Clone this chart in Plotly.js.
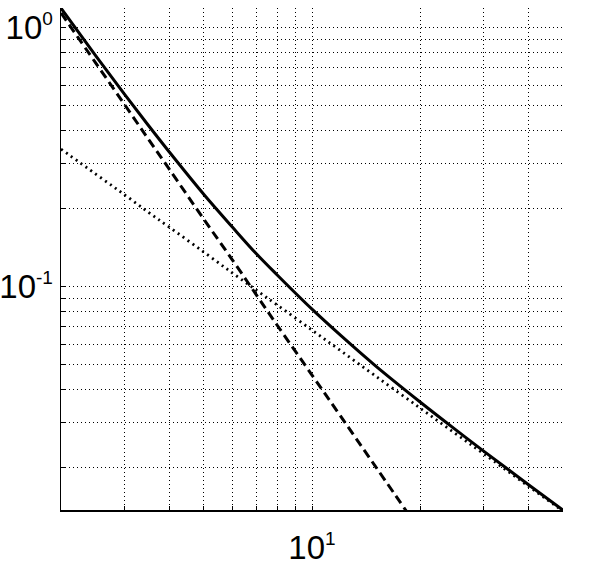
<!DOCTYPE html>
<html>
<head>
<meta charset="utf-8">
<script src="https://cdn.plot.ly/plotly-3.0.1.min.js"></script>
<style>html,body{margin:0;padding:0;background:#fff;}#chart{width:594px;height:567px;}</style>
</head>
<body>
<div id="chart"></div>
<script>
// values
var xVals = [2, 2.5, 3, 3.5, 4, 5, 6, 7, 8, 10, 12, 15, 20, 25, 30, 40, 50];
var solidVals = [1.19, 0.779, 0.555, 0.42, 0.332, 0.227, 0.170, 0.134, 0.111, 0.0819, 0.065, 0.0496, 0.0359, 0.0282, 0.02325, 0.01724, 0.01372];
var dashedX = [2, 2.5, 3, 3.5, 4, 5, 6, 7, 8, 10, 12, 15, 20];
var dashedVals = [1.14, 0.73, 0.507, 0.372, 0.285, 0.182, 0.127, 0.093, 0.071, 0.0456, 0.0317, 0.0203, 0.0114];
var dottedVals = [0.34, 0.272, 0.227, 0.194, 0.17, 0.136, 0.113, 0.097, 0.085, 0.068, 0.0567, 0.0453, 0.034, 0.0272, 0.0227, 0.017, 0.0136];

var xTickVals = [2, 3, 4, 5, 6, 7, 8, 9, 10, 20, 30, 40, 50];
var xTickText = ['', '', '', '', '', '', '', '', '10<sup><span style="font-size:19px">1</span></sup>', '', '', '', ''];
var yTickVals = [0.02, 0.03, 0.04, 0.05, 0.06, 0.07, 0.08, 0.09, 0.1, 0.2, 0.3, 0.4, 0.5, 0.6, 0.7, 0.8, 0.9, 1];
var yTickText = ['', '', '', '', '', '', '', '', '10<sup><span style="font-size:19px">-1</span></sup>', '', '', '', '', '', '', '', '', '10<sup><span style="font-size:19px">0</span></sup>'];

var traces = [
  {x: dashedX, y: dashedVals, mode: 'lines', line: {color: '#000', width: 3, dash: '9px,5px', shape: 'spline'}, hoverinfo: 'none'},
  {x: xVals, y: dottedVals, mode: 'lines', line: {color: '#000', width: 2.8, dash: '2px,4px', shape: 'spline'}, hoverinfo: 'none'},
  {x: xVals, y: solidVals, mode: 'lines', line: {color: '#000', width: 3, shape: 'spline'}, hoverinfo: 'none'}
];

var axisCommon = {
  type: 'log',
  showgrid: true,
  gridcolor: '#000',
  gridwidth: 1,
  griddash: '1px,3px',
  zeroline: false,
  showline: true,
  linecolor: '#000',
  linewidth: 1.5,
  ticks: 'inside',
  ticklen: 4,
  tickcolor: '#000',
  tickmode: 'array',
  ticklabeloverflow: 'allow',
  tickfont: {family: 'Liberation Sans, Arial, sans-serif', size: 33, color: '#000'},
  mirror: false
};

var layout = {
  width: 594,
  height: 567,
  margin: {l: 61, r: 31, t: 8, b: 57},
  paper_bgcolor: '#fff',
  plot_bgcolor: '#fff',
  showlegend: false,
  xaxis: Object.assign({}, axisCommon, {
    range: [Math.log10(2), Math.log10(50)],
    tickvals: xTickVals,
    ticktext: xTickText,
    ticklabelstandoff: 8
  }),
  yaxis: Object.assign({}, axisCommon, {
    range: [-1.862, 0.076],
    tickvals: yTickVals,
    ticktext: yTickText
  })
};

Plotly.newPlot('chart', traces, layout, {displayModeBar: false, staticPlot: true});
</script>
</body>
</html>
